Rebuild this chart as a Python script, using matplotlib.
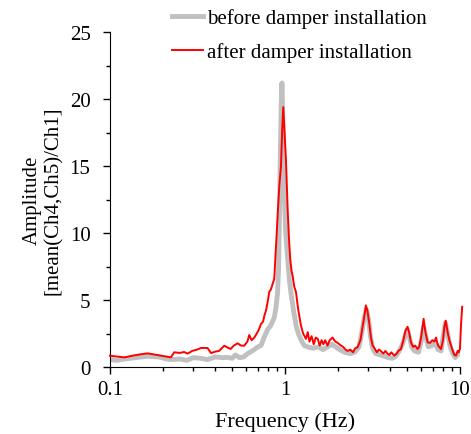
import numpy as np
import matplotlib
matplotlib.use('Agg')
import matplotlib.pyplot as plt
from matplotlib.ticker import MultipleLocator, FixedLocator, NullFormatter

plt.rcParams['font.family'] = ['Liberation Serif', 'DejaVu Serif']
plt.rcParams['font.size'] = 15

# after damper installation (red)
f_after = [0.100, 0.110, 0.121, 0.135, 0.150, 0.164, 0.185, 0.205, 0.223, 0.233,
           0.250, 0.265, 0.278, 0.295, 0.315, 0.331, 0.361, 0.378, 0.40, 0.42,
           0.45, 0.47, 0.49, 0.51, 0.537, 0.56, 0.585, 0.61, 0.625, 0.645,
           0.668, 0.69, 0.71, 0.729, 0.75, 0.765, 0.779, 0.80, 0.813, 0.832,
           0.85, 0.869, 0.889, 0.91, 0.928, 0.949, 0.965, 0.978, 0.99, 1.013,
           1.036, 1.055, 1.072, 1.09, 1.106, 1.13, 1.156, 1.19, 1.234, 1.27,
           1.318, 1.35, 1.38, 1.42, 1.46, 1.50, 1.54, 1.58, 1.62, 1.66,
           1.70, 1.75, 1.80, 1.87, 1.94, 2.00, 2.09, 2.15, 2.22, 2.28,
           2.36, 2.45, 2.52, 2.60, 2.70, 2.78, 2.85, 2.90, 2.96, 3.03,
           3.10, 3.17, 3.25, 3.35, 3.45, 3.53, 3.65, 3.75, 3.85, 3.95,
           4.05, 4.22, 4.35, 4.45, 4.6, 4.75, 4.88, 5.02, 5.12, 5.25,
           5.4, 5.55, 5.72, 5.85, 6.0, 6.2, 6.35, 6.54, 6.75, 6.95,
           7.15, 7.3, 7.5, 7.8, 8.0, 8.15, 8.3, 8.5, 8.7, 8.9,
           9.1, 9.3, 9.5, 9.7, 9.85, 10.0, 10.15, 10.3]
a_after = [0.84, 0.78, 0.72, 0.85, 0.95, 1.02, 0.90, 0.80, 0.72, 1.10,
           1.05, 1.12, 1.00, 1.20, 1.30, 1.42, 1.42, 1.04, 1.15, 1.20,
           1.59, 1.45, 1.35, 1.60, 1.77, 1.60, 1.59, 1.90, 2.39, 2.00,
           2.20, 2.50, 2.80, 3.20, 3.40, 3.90, 4.20, 5.00, 5.60, 5.80,
           6.20, 6.60, 9.05, 11.5, 13.5, 15.0, 17.8, 19.4, 18.0, 15.5,
           11.8, 9.5, 8.06, 7.2, 6.8, 6.0, 5.6, 4.3, 3.1, 2.5,
           2.1, 2.6, 1.9, 2.3, 1.7, 2.2, 2.1, 1.6, 2.0, 1.7,
           2.0, 1.6, 2.0, 2.2, 1.9, 1.8, 1.6, 1.5, 1.3, 1.2,
           1.3, 1.1, 1.4, 1.47, 2.0, 3.0, 3.9, 4.6, 4.2, 3.3,
           2.2, 1.6, 1.4, 1.1, 1.3, 1.2, 1.0, 1.2, 1.0, 0.9,
           1.1, 0.85, 1.0, 1.2, 1.34, 2.0, 2.7, 3.0, 2.6, 1.84,
           1.5, 1.6, 1.34, 1.5, 2.2, 3.6, 2.6, 1.84, 1.8, 2.0,
           1.9, 2.2, 1.6, 1.34, 2.0, 3.0, 3.46, 2.6, 2.0, 1.6,
           1.2, 0.9, 0.85, 1.2, 1.1, 1.34, 3.2, 4.5]

# before damper installation (grey)
f_before = [0.100, 0.110, 0.121, 0.14, 0.164, 0.19, 0.21, 0.223, 0.25, 0.275,
            0.30, 0.33, 0.36, 0.40, 0.44, 0.47, 0.50, 0.52, 0.55, 0.58,
            0.612, 0.65, 0.70, 0.729, 0.76, 0.796, 0.83, 0.869, 0.89, 0.908,
            0.92, 0.928, 0.94, 0.952, 0.961, 0.975, 0.99, 1.01, 1.036, 1.06,
            1.08, 1.12, 1.156, 1.2, 1.25, 1.29, 1.35, 1.45, 1.55, 1.65,
            1.75, 1.85, 1.95, 2.05, 2.2, 2.35, 2.5, 2.65, 2.75, 2.85,
            2.92, 3.0, 3.08, 3.17, 3.3, 3.5, 3.7, 3.9, 4.1, 4.3,
            4.5, 4.7, 4.9, 5.0, 5.15, 5.3, 5.5, 5.8, 6.0, 6.2,
            6.4, 6.6, 6.9, 7.2, 7.5, 7.8, 8.0, 8.25, 8.5, 8.8,
            9.1, 9.4, 9.7, 10.0]
a_before = [0.55, 0.50, 0.60, 0.70, 0.80, 0.75, 0.60, 0.55, 0.60, 0.50,
            0.70, 0.65, 0.55, 0.75, 0.70, 0.72, 0.65, 0.90, 0.70, 0.75,
            1.0, 1.2, 1.5, 1.6, 2.2, 2.8, 3.1, 3.7, 4.5, 5.6,
            7.5, 10.5, 15.5, 19.5, 21.2, 18.0, 13.0, 10.0, 8.1, 6.5,
            5.6, 4.2, 3.1, 2.4, 1.9, 1.6, 1.5, 1.4, 1.5, 1.3,
            1.5, 1.7, 1.5, 1.3, 1.1, 1.0, 1.1, 1.5, 2.6, 3.8,
            4.3, 3.6, 2.3, 1.4, 1.0, 0.9, 0.8, 0.7, 0.65, 0.8,
            1.2, 1.7, 2.5, 2.8, 2.2, 1.5, 1.2, 1.1, 1.9, 3.0,
            2.2, 1.5, 1.6, 1.8, 1.3, 1.2, 2.2, 3.3, 2.5, 1.5,
            1.0, 0.7, 0.9, 1.1]

fig = plt.figure(figsize=(4.71, 4.35), dpi=100)
ax = fig.add_axes([0.2335, 0.154, 0.743, 0.77])

ax.plot(f_before, a_before, color='#c0c0c0', lw=3.5, solid_joinstyle='round',
        label='before damper installation', zorder=2)
ax.plot(f_after, a_after, color='red', lw=1.4, label='after damper installation',
        zorder=3, clip_on=False)

ax.set_xscale('log')
ax.set_xlim(0.1, 10)
ax.set_ylim(0, 25)
ax.set_xticks([0.1, 1, 10])
ax.set_xticklabels(['0.1', '1', '10'])
ax.xaxis.set_minor_locator(FixedLocator([k * 10.0**e for e in (-1, 0) for k in range(2, 10)]))
ax.xaxis.set_minor_formatter(NullFormatter())
ax.yaxis.set_major_locator(MultipleLocator(5))
ax.yaxis.set_minor_locator(MultipleLocator(2.5))
ax.tick_params(which='major', direction='out', length=5, width=1)
ax.tick_params(which='minor', direction='out', length=3, width=1)
ax.tick_params(axis='x', which='major', pad=4)
ax.tick_params(axis='y', which='major', pad=9)

ax.spines['top'].set_visible(False)
ax.spines['right'].set_visible(False)

ax.set_xlabel('Frequency (Hz)', labelpad=9, fontsize=16)
ax.set_ylabel('Amplitude\n[mean(Ch4,Ch5)/Ch1]', labelpad=5, linespacing=1.15)

fig.legend(loc='upper left', bbox_to_anchor=(172 / 471, 0.978), frameon=False,
           handlelength=1.5, handletextpad=0.2, labelspacing=0.65,
           borderpad=0, borderaxespad=0)

plt.savefig('out.png', dpi=100)
